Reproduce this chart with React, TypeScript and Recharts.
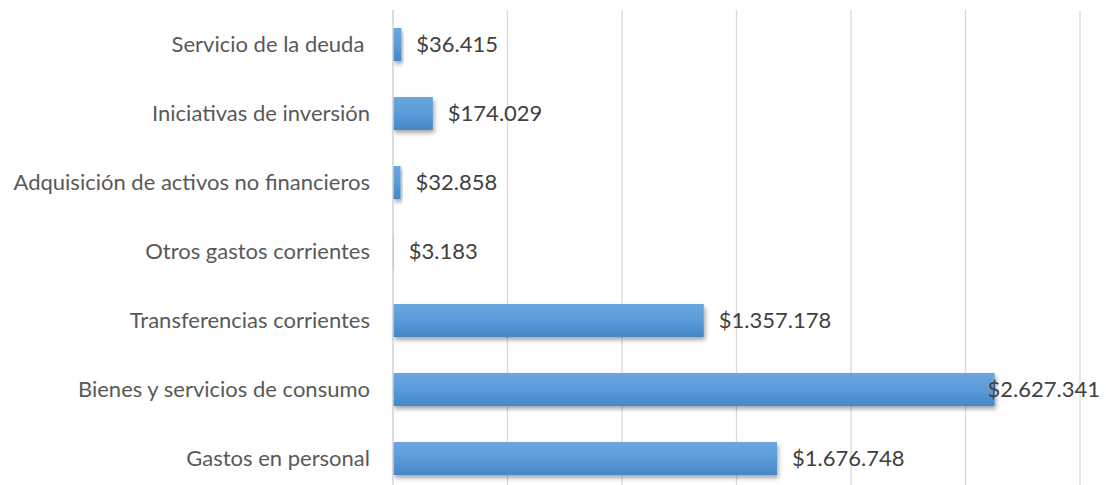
import React from "react";
import {
  BarChart,
  Bar,
  XAxis,
  YAxis,
  CartesianGrid,
  LabelList,
} from "recharts";

// gasto por subtítulo (pesos)
const categories = [
  "Servicio de la deuda\u00a0",
  "Iniciativas de inversión",
  "Adquisición de activos no financieros",
  "Otros gastos corrientes",
  "Transferencias corrientes",
  "Bienes y servicios de consumo",
  "Gastos en personal",
];
const amounts = [36415, 174029, 32858, 3183, 1357178, 2627341, 1676748];
const xTicks = [0, 500000, 1000000, 1500000, 2000000, 2500000, 3000000];

const data = categories.map((name, i) => ({ name, value: amounts[i] }));

const FONT = "Lato, 'Open Sans', sans-serif";
const FS = 22;
const W = 1106;

const fmt = (v: number) => "$" + String(v).replace(/\B(?=(\d{3})+(?!\d))/g, ".");

let ctx: CanvasRenderingContext2D | null = null;
function textWidth(s: string, size: number) {
  if (!ctx) ctx = document.createElement("canvas").getContext("2d");
  if (!ctx) return s.length * size * 0.5;
  ctx.font = `${size}px Lato`;
  return ctx.measureText(s).width;
}

function ShadowBar(props: any) {
  const { x, y, width, height } = props;
  if (!width || width <= 0) return null;
  return (
    <rect
      x={x}
      y={y}
      width={width}
      height={height}
      fill="url(#barGrad)"
      filter="url(#barShadow)"
    />
  );
}

function ValueLabel(props: any) {
  const { x, y, width, height, value } = props;
  const txt = fmt(value);
  let tx = x + width + 15;
  const w = textWidth(txt, FS);
  // Excel keeps the label inside the chart area
  if (tx + w > W - 6) tx = W - 6 - w;
  return (
    <text
      x={tx}
      y={y + height / 2}
      dy="0.35em"
      fill="#404040"
      fontSize={FS}
      fontFamily={FONT}
    >
      {txt}
    </text>
  );
}

export default function App() {
  return (
    <div
      style={{
        position: "absolute",
        left: 0,
        top: 0,
        width: W,
        height: 485,
        overflow: "hidden",
        background: "#fff",
      }}
    >
      <BarChart
        width={W}
        height={500}
        data={data}
        layout="vertical"
        margin={{ top: 10, right: 26, bottom: 7, left: 0 }}
      >
        <defs>
          <linearGradient id="barGrad" x1="0" y1="0" x2="0" y2="1">
            <stop offset="0%" stopColor="#6CA6DF" />
            <stop offset="50%" stopColor="#5A9BD8" />
            <stop offset="100%" stopColor="#4587C9" />
          </linearGradient>
          <filter id="barShadow" x="-10%" y="-30%" width="130%" height="170%">
            <feDropShadow dx="1.5" dy="3" stdDeviation="2" floodColor="#000" floodOpacity="0.35" />
          </filter>
        </defs>
        <CartesianGrid horizontal={false} stroke="#d9d9d9" strokeWidth={1.3} />
        <XAxis
          type="number"
          domain={[0, 3000000]}
          ticks={xTicks}
          tick={() => <g />}
          axisLine={false}
          tickLine={false}
          height={0}
        />
        <YAxis
          type="category"
          dataKey="name"
          width={393}
          axisLine={{ stroke: "#d9d9d9", strokeWidth: 1.3 }}
          tickLine={false}
          tickSize={0}
          tickMargin={23}
          interval={0}
          tick={{ fill: "#595959", fontSize: FS, fontFamily: FONT }}
        />
        <Bar
          dataKey="value"
          barSize={33}
          shape={ShadowBar}
          isAnimationActive={false}
        >
          <LabelList dataKey="value" content={ValueLabel} />
        </Bar>
      </BarChart>
    </div>
  );
}
